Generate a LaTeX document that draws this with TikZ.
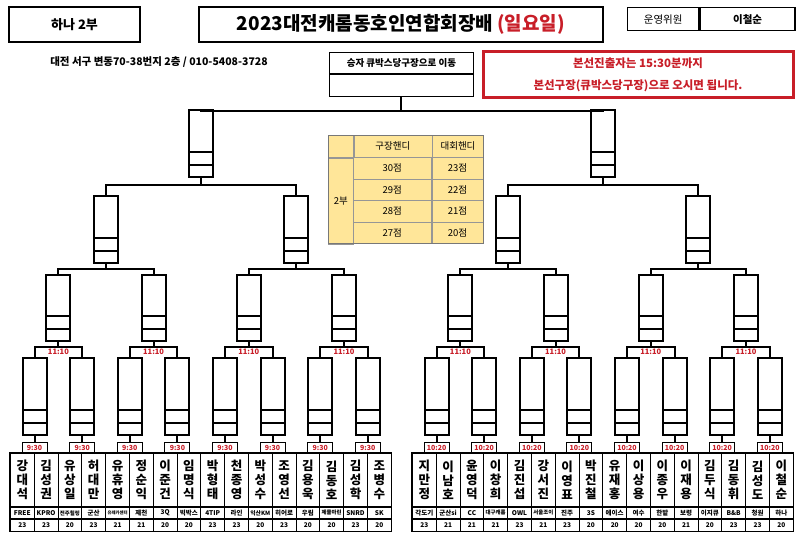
\documentclass[tikz,border=0pt]{standalone}
\usepackage{graphicx}
\usepackage{fontspec}
\setmainfont{Noto Sans CJK KR}
\usetikzlibrary{calc,positioning}

\definecolor{hred}{RGB}{200,30,40}
\definecolor{hyellow}{RGB}{255,230,153}
\definecolor{hgray}{RGB}{150,150,150}

% name written top to bottom, one syllable per line
\newcommand{\vname}[3]{#1\\#2\\#3}
% club names squeezed into the narrow cell
\newcommand{\fitw}[1]{\resizebox{\ifdim\width>20pt 20pt\else\width\fi}{!}{#1}}

\tikzset{
  hbox/.style={draw, line width=1.4pt, inner sep=0pt},
  link/.style={line width=1.9pt},
  matchbox/.style={draw, line width=1.9pt, fill=white, minimum width=24pt, inner sep=0pt,
    path picture={
      \draw[line width=1.9pt]
        ([yshift=25pt]path picture bounding box.south west) -- ([yshift=25pt]path picture bounding box.south east)
        ([yshift=12.5pt]path picture bounding box.south west) -- ([yshift=12.5pt]path picture bounding box.south east);
    }},
  timebox/.style={draw, line width=1pt, minimum width=25pt, minimum height=10pt, inner sep=0pt,
    text=hred, font=\fontsize{7}{7}\selectfont\bfseries},
  timelbl/.style={inner sep=0pt, text=hred, font=\fontsize{7.5}{7.5}\selectfont\bfseries},
  namecell/.style={draw, line width=0.8pt, minimum width=23.8pt, minimum height=53pt, inner sep=0pt,
    anchor=north west, align=center, font=\fontsize{12.5}{14}\selectfont\bfseries},
  clubcell/.style={draw, line width=0.8pt, minimum width=23.8pt, minimum height=11.5pt, inner sep=0pt,
    font=\fontsize{6.5}{6.5}\selectfont\bfseries},
  scorecell/.style={draw, line width=0.8pt, minimum width=23.8pt, minimum height=11.5pt, inner sep=0pt,
    font=\fontsize{6.5}{6.5}\selectfont\bfseries},
  hcell/.style={draw=hgray, line width=0.6pt, fill=hyellow, inner sep=0pt, font=\fontsize{9.5}{9.5}\selectfont},
}

\begin{document}
\begin{tikzpicture}[x=1pt, y=-1pt]
\useasboundingbox (0,0) rectangle (800,551);

% header row
\node[hbox, minimum width=131pt, minimum height=35pt, font=\fontsize{13}{13}\selectfont\bfseries] (div) at (74.5,24.5) {하나 2부};
\node[hbox, line width=2.6pt, minimum width=404pt, minimum height=35pt, font=\fontsize{19}{19}\selectfont\bfseries] (title) at (401,24.5) {2023대전캐롬동호인연합회장배 \textcolor{hred}{(일요일)}};
\node[hbox, minimum width=71pt, minimum height=23pt, anchor=north west, font=\fontsize{10.5}{10.5}\selectfont] (staff) at (627,7) {운영위원};
\node[hbox, minimum width=95pt, minimum height=23pt, right=0pt of staff, font=\fontsize{10.5}{10.5}\selectfont\bfseries] (staffname) {이철순};
\node[font=\fontsize{10.5}{10.5}\selectfont\bfseries] (addr) at (159,62) {대전 서구 변동70-38번지 2층 / 010-5408-3728};
\node[hbox, draw=hred, line width=3pt, minimum width=310pt, minimum height=45pt, align=center, text=hred,
  font=\fontsize{11.5}{22}\selectfont\bfseries] (notice) at (638,74.5) {본선진출자는 15:30분까지\\본선구장(큐박스당구장)으로 오시면 됩니다.};

% winner box
\node[hbox, line width=1.2pt, minimum width=144pt, minimum height=21pt, anchor=north, font=\fontsize{9.5}{9.5}\selectfont\bfseries] (wh) at (401.4,52) {승자 큐박스당구장으로 이동};
\node[hbox, line width=1.2pt, minimum width=144pt, minimum height=22pt, below=0pt of wh] (wb) {};

% handicap table
\node[hcell, minimum width=25pt, minimum height=22pt, anchor=north west] (h0) at (328,135) {};
\node[hcell, minimum width=78pt, minimum height=22pt, right=0pt of h0] (h1) {구장핸디};
\node[hcell, minimum width=51pt, minimum height=22pt, right=0pt of h1] (h2) {대회핸디};
\node[hcell, minimum width=25pt, minimum height=86pt, below=0pt of h0] (grp) {2부};
\foreach \a/\b [count=\r] in {30점/23점, 29점/22점, 28점/21점, 27점/20점} {
  \node[hcell, minimum width=78pt, minimum height=21.5pt, anchor=north west] (ha\r) at (353,{157+21.5*(\r-1)}) {\a};
  \node[hcell, minimum width=51pt, minimum height=21.5pt, right=0pt of ha\r] (hb\r) {\b};
}
\draw[hgray!80!black, line width=0.8pt] (h0.north west) rectangle (hb4.south east);

% players
\foreach \nm/\club/\sc [count=\i] in {
  강대석/FREE/23, 김성권/KPRO/23, 유상일/전주힐링/20, 허대만/군산/23,
  유휴영/유레카센터/21, 정순익/제천/21, 이준건/3Q/20, 임명식/빅박스/20,
  박형태/4TIP/23, 천종영/라인/23, 박성수/익산KM/20, 조영선/히어로/23,
  김용욱/우림/20, 김동호/제물마린/20, 김성학/SNRD/23, 조병수/SK/20,
  지만정/각도기/23, 이남호/군산si/21, 윤영덕/CC/21, 이창희/대구캐롬/21,
  김진섭/OWL/23, 강서진/서울조이/21, 이영표/진주/23, 박진철/3S/20,
  유재홍/에이스/20, 이상용/여수/20, 이종우/한밭/20, 이재용/보령/21,
  김두식/이지큐/20, 김동휘/B\&B/23, 김성도/청원/23, 이철순/하나/20} {
  \pgfmathsetmacro\px{\i<17 ? 10+23.8*(\i-1) : 412+23.8*(\i-17)}
  \node[namecell] (p\i) at (\px,453) {\expandafter\vname\nm};
  \node[clubcell, below=0pt of p\i] (c\i) {\fitw{\club}};
  \node[scorecell, below=0pt of c\i] (n\i) {\sc};
}
\draw[line width=1.6pt] (p1.north west) rectangle (n16.south east);
\draw[line width=1.6pt] (p17.north west) rectangle (n32.south east);

% first round
\foreach \k in {1,...,16} {
  \pgfmathtruncatemacro\a{2*\k-1}
  \node[timebox, anchor=south] (t\k) at (p\a.north east) {\ifnum\k<9 9:30\else 10:20\fi};
  \node[matchbox, minimum height=77pt, above=6pt of t\k] (m\k) {};
  \draw[link] (m\k.south) -- (t\k.north);
}

% second round
\foreach \k in {1,...,8} {
  \pgfmathtruncatemacro\a{2*\k-1}
  \pgfmathtruncatemacro\b{2*\k}
  \coordinate (mq) at ($(m\a.north)!0.5!(m\b.north)$);
  \node[matchbox, minimum height=66pt, above=15pt of mq] (q\k) {};
  \draw[link] (q\k.south) -- ++(0,5) coordinate (jq\k);
  \draw[link] (m\a.north) |- (jq\k) -| (m\b.north);
  \node[timelbl, below=2pt of jq\k] (l\k) {11:10};
}

% third round
\foreach \k in {1,...,4} {
  \pgfmathtruncatemacro\a{2*\k-1}
  \pgfmathtruncatemacro\b{2*\k}
  \coordinate (qs) at ($(q\a.north)!0.5!(q\b.north)$);
  \node[matchbox, minimum height=67pt, above=10pt of qs] (s\k) {};
  \draw[link] (s\k.south) -- ++(0,5) coordinate (js\k);
  \draw[link] (q\a.north) |- (js\k) -| (q\b.north);
}

% semi finals
\foreach \k in {1,2} {
  \pgfmathtruncatemacro\a{2*\k-1}
  \pgfmathtruncatemacro\b{2*\k}
  \coordinate (sf) at ($(s\a.north)!0.5!(s\b.north)$);
  \node[matchbox, minimum height=67pt, above=17pt of sf] (f\k) {};
  \draw[link] (f\k.south) -- ++(0,7) coordinate (jf\k);
  \draw[link] (s\a.north) |- (jf\k) -| (s\b.north);
}

% to the winner box
\draw[link] (wb.south) -- ++(0,14) coordinate (jw);
\draw[link] (f1.north) |- (jw) -| (f2.north);
\end{tikzpicture}
\end{document}
